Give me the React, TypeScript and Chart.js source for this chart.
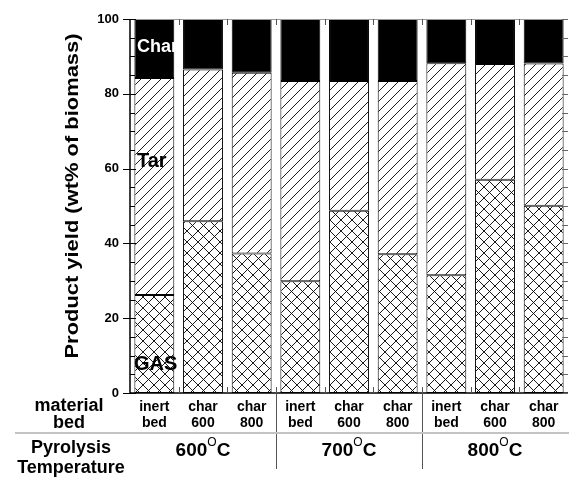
import React, { useEffect, useRef } from "react";
import { Chart, registerables } from "chart.js";

Chart.register(...registerables);

const categories = ["inert|bed", "char|600", "char|800", "inert|bed", "char|600", "char|800", "inert|bed", "char|600", "char|800"];
const gasValues = [26.2, 45.9, 37.3, 29.9, 48.7, 37.1, 31.5, 57.0, 50.1];
const tarTop = [84.2, 86.5, 85.6, 83.4, 83.4, 83.4, 88.2, 88.0, 88.1];
const tarValues = tarTop.map((t, i) => +(t - gasValues[i]).toFixed(1));
const charValues = tarTop.map((t) => +(100 - t).toFixed(1));
const groupLabels = ["600", "700", "800"];
const yTicks = [0, 20, 40, 60, 80, 100];

const FONT = "'Liberation Sans', Arial, sans-serif";

function makePattern(size: number, cross: boolean) {
  const c = document.createElement("canvas");
  c.width = size;
  c.height = size;
  const ctx = c.getContext("2d")!;
  ctx.fillStyle = "#fff";
  ctx.fillRect(0, 0, size, size);
  ctx.strokeStyle = "#000";
  ctx.lineWidth = 0.9;
  ctx.beginPath();
  for (const off of [-size, 0, size]) {
    ctx.moveTo(off, size);
    ctx.lineTo(off + size, 0);
    if (cross) {
      ctx.moveTo(off, 0);
      ctx.lineTo(off + size, size);
    }
  }
  ctx.stroke();
  return ctx.createPattern(c, "repeat")!;
}

const decorPlugin = {
  id: "decor",
  afterDatasetsDraw(chart: any) {
    const ctx = chart.ctx;
    const ca = chart.chartArea;
    const y = chart.scales.y;
    ctx.save();
    ctx.textBaseline = "middle";
    ctx.textAlign = "left";
    ctx.fillStyle = "#fff";
    ctx.font = `bold 18px ${FONT}`;
    ctx.fillText("Char", ca.left + 7, y.getPixelForValue(92.5));
    ctx.fillStyle = "#000";
    ctx.font = `bold 20px ${FONT}`;
    ctx.fillText("Tar", ca.left + 7, y.getPixelForValue(62));
    ctx.fillText("GAS", ca.left + 4, y.getPixelForValue(7.5));
    ctx.restore();
  },
  afterDraw(chart: any) {
    const ctx = chart.ctx;
    const ca = chart.chartArea;
    const x = chart.scales.x;
    const y = chart.scales.y;
    const W = chart.width;
    ctx.save();
    // frame
    ctx.strokeStyle = "#999";
    ctx.lineWidth = 1;
    ctx.beginPath();
    ctx.moveTo(ca.left, ca.top + 0.5);
    ctx.lineTo(ca.right, ca.top + 0.5);
    ctx.stroke();
    ctx.strokeStyle = "#000";
    ctx.lineWidth = 1.5;
    ctx.beginPath();
    ctx.moveTo(ca.left, ca.top);
    ctx.lineTo(ca.left, ca.bottom);
    ctx.lineTo(ca.right, ca.bottom);
    ctx.stroke();
    // y ticks
    ctx.lineWidth = 1;
    for (let v = 0; v <= 100; v += 5) {
      const py = Math.round(y.getPixelForValue(v)) + 0.5;
      ctx.strokeStyle = "#000";
      ctx.beginPath();
      if (v % 20 === 0) {
        ctx.moveTo(ca.left - 7, py);
        ctx.lineTo(ca.left + 6, py);
      } else {
        ctx.moveTo(ca.left, py);
        ctx.lineTo(ca.left + 5, py);
      }
      ctx.stroke();
      ctx.strokeStyle = "#666";
      ctx.beginPath();
      ctx.moveTo(ca.right - 6, py);
      ctx.lineTo(ca.right, py);
      ctx.stroke();
    }
    // category boundary ticks
    ctx.strokeStyle = "#555";
    for (let i = 1; i < categories.length; i++) {
      const bx = Math.round((x.getPixelForValue(i - 1) + x.getPixelForValue(i)) / 2) + 0.5;
      ctx.beginPath();
      ctx.moveTo(bx, ca.top);
      ctx.lineTo(bx, ca.top + 6);
      ctx.moveTo(bx, ca.bottom - 6);
      ctx.lineTo(bx, ca.bottom);
      ctx.stroke();
    }
    // group separators
    ctx.strokeStyle = "#555";
    for (const i of [3, 6]) {
      const bx = Math.round((x.getPixelForValue(i - 1) + x.getPixelForValue(i)) / 2) + 0.5;
      ctx.beginPath();
      ctx.moveTo(bx, ca.bottom - 6);
      ctx.lineTo(bx, 469);
      ctx.stroke();
    }
    // gray horizontal line
    ctx.strokeStyle = "#c4c4c4";
    ctx.lineWidth = 2;
    ctx.beginPath();
    ctx.moveTo(15, 433);
    ctx.lineTo(W, 433);
    ctx.stroke();
    // category labels
    ctx.fillStyle = "#000";
    ctx.textAlign = "center";
    ctx.textBaseline = "middle";
    ctx.font = `bold 14px ${FONT}`;
    categories.forEach((c, i) => {
      const [a, b] = c.split("|");
      const cx = x.getPixelForValue(i);
      ctx.fillText(a, cx, 407);
      ctx.fillText(b, cx, 423);
    });
    // left labels
    ctx.font = `bold 18px ${FONT}`;
    ctx.fillText("material", 69, 406);
    ctx.fillText("bed", 69, 423);
    ctx.fillText("Pyrolysis", 71, 448);
    ctx.fillText("Temperature", 71, 468);
    // group labels
    groupLabels.forEach((g, k) => {
      const cx = x.getPixelForValue(k * 3 + 1);
      ctx.font = `bold 19px ${FONT}`;
      const w1 = ctx.measureText(g).width;
      const wC = ctx.measureText("C").width;
      ctx.font = `12px ${FONT}`;
      const wO = ctx.measureText("O").width;
      const total = w1 + wO + wC;
      let sx = cx - total / 2;
      ctx.textAlign = "left";
      ctx.font = `bold 19px ${FONT}`;
      ctx.fillText(g, sx, 451);
      sx += w1;
      ctx.font = `12px ${FONT}`;
      ctx.fillText("O", sx, 443);
      sx += wO;
      ctx.font = `bold 19px ${FONT}`;
      ctx.fillText("C", sx, 451);
      ctx.textAlign = "center";
    });
    // y title
    ctx.save();
    ctx.translate(73, 196);
    ctx.rotate(-Math.PI / 2);
    ctx.font = `bold 18px ${FONT}`;
    const title = "Product yield (wt% of biomass)";
    const tw = ctx.measureText(title).width;
    ctx.scale(325 / tw, 1);
    ctx.fillText(title, 0, 0);
    ctx.restore();
    ctx.restore();
  },
};

export default function App() {
  const ref = useRef<HTMLCanvasElement>(null);
  useEffect(() => {
    const cross = makePattern(11, true);
    const diag = makePattern(10, false);
    const chart = new Chart(ref.current!, {
      type: "bar",
      data: {
        labels: categories,
        datasets: [
          { label: "GAS", data: gasValues, backgroundColor: cross as any, borderColor: "#000", borderWidth: 1, borderSkipped: false },
          { label: "Tar", data: tarValues, backgroundColor: diag as any, borderColor: "#000", borderWidth: 1, borderSkipped: false },
          { label: "Char", data: charValues, backgroundColor: "#000", borderColor: "#000", borderWidth: 1, borderSkipped: false },
        ],
      },
      options: {
        responsive: false,
        animation: false,
        layout: { padding: { left: 0, right: 1, top: 19, bottom: 84 } },
        plugins: { legend: { display: false }, tooltip: { enabled: false }, title: { display: false } },
        datasets: { bar: { barPercentage: 0.82, categoryPercentage: 1 } },
        scales: {
          x: { stacked: true, display: false },
          y: {
            stacked: true,
            min: 0,
            max: 100,
            afterFit: (s: any) => {
              s.width = 130;
            },
            afterBuildTicks: (s: any) => {
              s.ticks = yTicks.map((v) => ({ value: v }));
            },
            ticks: { font: { family: FONT, size: 13, weight: "bold" }, color: "#000", padding: 11 },
            grid: { display: false, drawTicks: false },
            border: { display: false },
          },
        },
      } as any,
      plugins: [decorPlugin],
    });
    return () => chart.destroy();
  }, []);
  return (
    <div style={{ position: "fixed", left: 0, top: 0, width: 569, height: 477, background: "#fff" }}>
      <canvas ref={ref} width={569} height={477} />
    </div>
  );
}
